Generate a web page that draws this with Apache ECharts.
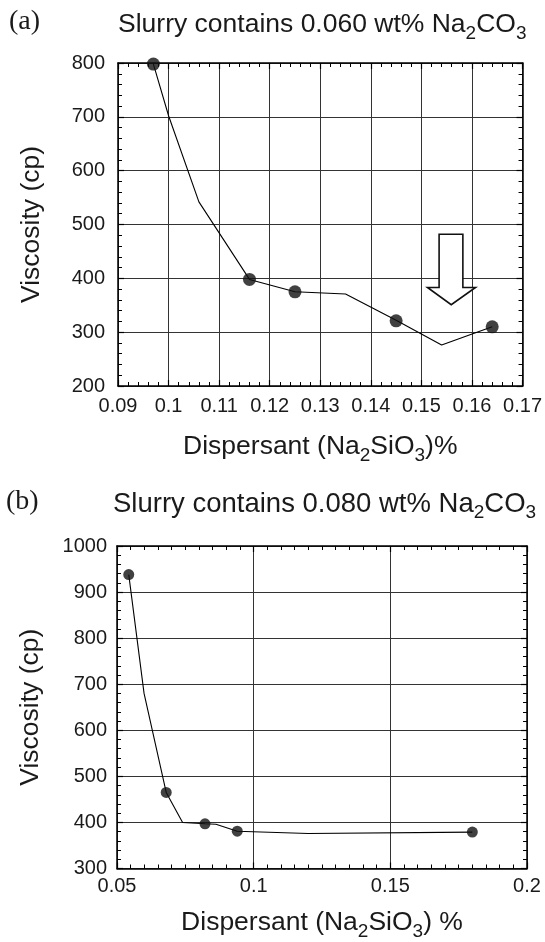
<!DOCTYPE html>
<html>
<head>
<meta charset="utf-8">
<script src="https://cdn.jsdelivr.net/npm/echarts@6/dist/echarts.min.js"></script>
<style>
  html, body { margin: 0; padding: 0; background: #fff; }
  #main { width: 545px; height: 942px; }
</style>
</head>
<body>
<div id="main"></div>
<script>
// (a) 0.060 wt% Na2CO3 -- measured points
const dispA = [0.097, 0.116, 0.125, 0.145, 0.164];
const viscA = [798, 398, 375, 321, 310];
// hand drawn curve through (a)
const curveDispA = [0.097, 0.1, 0.106, 0.116, 0.125, 0.135, 0.145, 0.154, 0.164];
const curveViscA = [798, 702, 542, 398, 375, 371, 322, 276, 310];
// hollow arrow in (a), outline vertices
const arrowX = [0.1535, 0.1582, 0.1582, 0.1607, 0.1559, 0.1512, 0.1535];
const arrowY = [482, 482, 383, 383, 351, 383, 383];

// (b) 0.080 wt% Na2CO3
const dispB = [0.0543, 0.068, 0.0822, 0.094, 0.18];
const viscB = [938, 465, 397, 381, 379];
const curveDispB = [0.0543, 0.0599, 0.068, 0.074, 0.0822, 0.0862, 0.094, 0.12, 0.18];
const curveViscB = [938, 680, 465, 400, 397, 396, 381, 376, 379];

// axis ranges [min, max, interval]
const xRangeA = [0.09, 0.17, 0.01];
const yRangeA = [200, 800, 100];
const xRangeB = [0.05, 0.2, 0.05];
const yRangeB = [300, 1000, 100];

const FONT = 'Liberation Sans';
const INK = '#1a1a1a';

function zip(xs, ys) {
  return xs.map((x, i) => [x, ys[i]]);
}

// text with subscripts (Na2CO3, Na2SiO3)
function richSub(size) {
  const sub = Math.round(size * 0.7);
  return {
    t: { fontFamily: FONT, fontSize: size, fontWeight: 'normal', lineHeight: 40, color: INK },
    s: { fontFamily: FONT, fontSize: sub, fontWeight: 'normal', lineHeight: sub, padding: [18, 0, 0, 0], color: INK }
  };
}

// main axis (with labels) + mirror axis (ticks only)
function xAxes(gridIndex, range, minorSplit, nameGap, labelMargin) {
  const common = {
    type: 'value', gridIndex: gridIndex,
    min: range[0], max: range[1], interval: range[2],
    axisLine: { show: true, lineStyle: { color: '#000', width: 1.5 } },
    axisTick: { show: true, inside: true, length: 6, lineStyle: { color: '#000', width: 1.2 } },
    minorTick: { show: true, splitNumber: minorSplit, length: 4, lineStyle: { color: '#000', width: 1 } }
  };
  return [
    Object.assign({}, common, {
      position: 'bottom',
      axisLabel: { fontFamily: FONT, fontSize: 20, color: INK, margin: labelMargin,
        formatter: v => String(v) },
      splitLine: { show: true, lineStyle: { color: '#333', width: 1 } },
      name: '{t|Dispersant (Na}{s|2}{t|SiO}{s|3}{t|)' + (gridIndex === 0 ? '%' : ' %') + '}',
      nameLocation: 'middle',
      nameGap: nameGap,
      nameTextStyle: { rich: richSub(26.5) }
    }),
    Object.assign({}, common, {
      position: 'top',
      axisLabel: { show: false },
      splitLine: { show: false }
    })
  ];
}

function yAxes(gridIndex, range, nameGap, labelMargin) {
  const common = {
    type: 'value', gridIndex: gridIndex,
    min: range[0], max: range[1], interval: range[2],
    axisLine: { show: true, lineStyle: { color: '#000', width: 1.5 } },
    axisTick: { show: true, inside: true, length: 6, lineStyle: { color: '#000', width: 1.2 } },
    minorTick: { show: true, splitNumber: 5, length: 4, lineStyle: { color: '#000', width: 1 } }
  };
  return [
    Object.assign({}, common, {
      position: 'left',
      axisLabel: { fontFamily: FONT, fontSize: 20, color: INK, margin: labelMargin,
        formatter: v => String(v) },
      splitLine: { show: true, lineStyle: { color: '#333', width: 1 } },
      name: 'Viscosity (cp)',
      nameLocation: 'middle',
      nameGap: nameGap,
      nameTextStyle: { fontFamily: FONT, fontSize: 26.5, color: INK }
    }),
    Object.assign({}, common, {
      position: 'right',
      axisLabel: { show: false },
      splitLine: { show: false }
    })
  ];
}

const chart = echarts.init(document.getElementById('main'), null, { renderer: 'canvas' });

const option = {
  backgroundColor: '#fff',
  animation: false,
  title: [
    { text: '(a)', left: 9, top: 8, padding: 0,
      textStyle: { fontFamily: 'Liberation Serif', fontSize: 28, fontWeight: 'normal', color: INK } },
    { text: '{t|Slurry contains 0.060 wt% Na}{s|2}{t|CO}{s|3}', left: 118, top: 5, padding: 0,
      textStyle: { fontWeight: 'normal', rich: richSub(26.5) } },
    { text: '(b)', left: 6, top: 488, padding: 0,
      textStyle: { fontFamily: 'Liberation Serif', fontSize: 28, fontWeight: 'normal', color: INK } },
    { text: '{t|Slurry contains 0.080 wt% Na}{s|2}{t|CO}{s|3}', left: 113, top: 484, padding: 0,
      textStyle: { fontWeight: 'normal', rich: richSub(27.5) } }
  ],
  grid: [
    { left: 118, top: 63, width: 408, height: 323 },
    { left: 117, top: 546, width: 410, height: 326 }
  ],
  xAxis: xAxes(0, xRangeA, 5, 41, 10).concat(xAxes(1, xRangeB, 10, 34, 8)),
  yAxis: yAxes(0, yRangeA, 73, 13).concat(yAxes(1, yRangeB, 73, 10)),
  series: [
    {
      type: 'line', xAxisIndex: 0, yAxisIndex: 0,
      data: zip(curveDispA, curveViscA),
      showSymbol: false, symbol: 'none',
      lineStyle: { color: '#000', width: 1.1 }
    },
    {
      type: 'scatter', xAxisIndex: 0, yAxisIndex: 0,
      data: zip(dispA, viscA),
      symbol: 'circle', symbolSize: 13,
      itemStyle: { color: '#111' }, z: 4
    },
    {
      type: 'custom', xAxisIndex: 0, yAxisIndex: 0,
      data: [0], silent: true, z: 5,
      renderItem: function (params, api) {
        const pts = arrowX.map((x, i) => api.coord([x, arrowY[i]]));
        return {
          type: 'polygon',
          shape: { points: pts },
          style: { fill: '#fff', stroke: '#111', lineWidth: 1.6 }
        };
      }
    },
    {
      type: 'line', xAxisIndex: 2, yAxisIndex: 2,
      data: zip(curveDispB, curveViscB),
      showSymbol: false, symbol: 'none',
      lineStyle: { color: '#000', width: 1.1 }
    },
    {
      type: 'scatter', xAxisIndex: 2, yAxisIndex: 2,
      data: zip(dispB, viscB),
      symbol: 'circle', symbolSize: 11,
      itemStyle: { color: '#111' }, z: 4
    }
  ]
};

chart.setOption(option);
</script>
</body>
</html>
